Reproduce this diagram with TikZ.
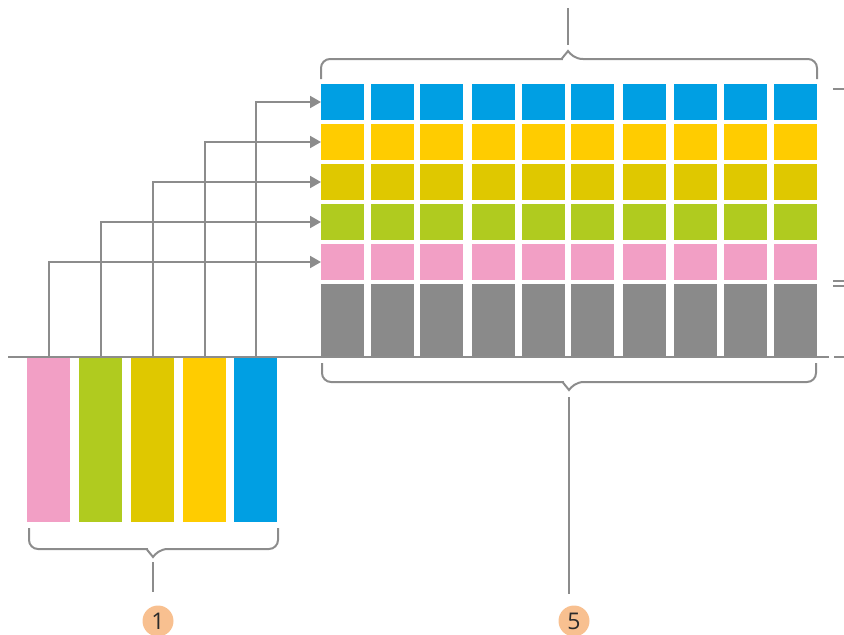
\documentclass[tikz,border=0pt]{standalone}
\usepackage{fontspec}
\setsansfont{Open Sans}
\usetikzlibrary{arrows.meta}
\definecolor{cblue}{HTML}{009FE3}
\definecolor{cyel}{HTML}{FFCC00}
\definecolor{cdyel}{HTML}{DFC800}
\definecolor{cgreen}{HTML}{B0CB1F}
\definecolor{cpink}{HTML}{F29FC5}
\definecolor{cgray}{HTML}{8A8A8A}
\definecolor{lgray}{HTML}{8C8C8C}
\definecolor{peach}{HTML}{F8C090}
\definecolor{txt}{HTML}{2B2B2B}
\newcommand\drawbrace[6]{%
  \draw[line] (#1,#3) [rounded corners=9pt] -- (#1,#4) -- (#6-15,#4) [sharp corners]
    .. controls (#6-7,#4) and (#6-2,#5+0.35*#4-0.35*#5) .. (#6,#5)
    .. controls (#6+2,#5+0.35*#4-0.35*#5) and (#6+7,#4) .. (#6+15,#4)
    [rounded corners=9pt] -- (#2,#4) -- (#2,#3);}
\begin{document}
\begin{tikzpicture}[x=1pt,y=-1pt,
  cell/.style={inner sep=0pt,outer sep=0pt,minimum width=43pt,draw=none},
  line/.style={draw=lgray,line width=2pt},
  conn/.style={line,-{Triangle[length=11pt,width=12pt]}},
  tick/.style={line},
  badge/.style={circle,fill=peach,minimum size=31pt,inner sep=0pt,font=\sffamily\fontsize{23}{23}\selectfont,text=txt}]
\useasboundingbox (0,0) rectangle (844,635);
% grid
\foreach \x [count=\i] in {321,371,420,472,522,571,623,674,724,774}{
  \foreach \t/\h/\c/\r in {84/36/cblue/1,124/36/cyel/2,164/36/cdyel/3,204/36/cgreen/4,244/36/cpink/5,284/72/cgray/6}{
    \node[cell,fill=\c,minimum height=\h pt] (g\r-\i) at (\x+21.5,\t+\h/2) {};
  }
}
% bars
\foreach \x/\c [count=\i] in {27/cpink,79/cgreen,131/cdyel,183/cyel,234/cblue}{
  \node[cell,fill=\c,minimum height=164pt] (b\i) at (\x+21.5,440) {};
}
% baseline
\coordinate (bl) at (8,357);
\coordinate (br) at (829,357);
\draw[line] (bl) -- (br);
% connectors
\draw[conn] (b1.north) |- (g5-1.west);
\draw[conn] (b2.north) |- (g4-1.west);
\draw[conn] (b3.north) |- (g3-1.west);
\draw[conn] (b4.north) |- (g2-1.west);
\draw[conn] (b5.north) |- (g1-1.west);
% braces
\drawbrace{321}{817}{79}{59}{51}{568}
\drawbrace{322}{816}{363}{382}{390}{569}
\drawbrace{29}{278}{528}{549}{557}{153}
% leader lines
\coordinate (ta) at (568,8); \coordinate (tb) at (568,45);
\draw[line] (ta) -- (tb);
\coordinate (ga) at (569,397); \coordinate (gb) at (569,594);
\draw[line] (ga) -- (gb);
\coordinate (la) at (153,562); \coordinate (lb) at (153,592);
\draw[line] (la) -- (lb);
% badges
\node[badge] (n1) at (158,621) {1};
\node[badge] (n5) at (574,621) {5};
% right ticks
\coordinate (r1a) at (833,89); \coordinate (r1b) at (844,89);
\coordinate (r2a) at (833,281); \coordinate (r2b) at (844,281);
\coordinate (r3a) at (833,286); \coordinate (r3b) at (844,286);
\coordinate (r4a) at (834,357); \coordinate (r4b) at (844,357);
\draw[tick] (r1a) -- (r1b);
\draw[tick] (r2a) -- (r2b);
\draw[tick] (r3a) -- (r3b);
\draw[tick] (r4a) -- (r4b);
\end{tikzpicture}
\end{document}
